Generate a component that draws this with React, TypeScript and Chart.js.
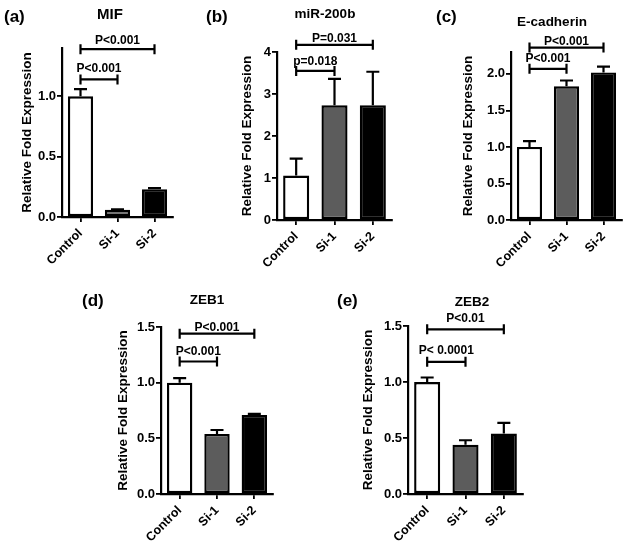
import React, { useEffect, useRef } from 'react';
import { Chart, registerables } from 'chart.js';

Chart.register(...registerables);

// ---------------- DATA ----------------
const categories = ['Control', 'Si-1', 'Si-2'];

const mifMean = [1.0, 0.06, 0.23];
const mifErr = [0.06, 0.004, 0.01];
const mifMax = 1.4;
const mifTicks = [0, 0.5, 1.0];
const mifTickLabels = ['0.0', '0.5', '1.0'];
const mifBrackets = [
  { from: 0, to: 1, y: 1.14, label: 'P<0.001' },
  { from: 0, to: 2, y: 1.39, label: 'P<0.001' },
];

const mirMean = [1.06, 2.73, 2.73];
const mirErr = [0.4, 0.63, 0.8];
const mirMax = 4;
const mirTicks = [0, 1, 2, 3, 4];
const mirTickLabels = ['0', '1', '2', '3', '4'];
const mirBrackets = [
  { from: 0, to: 1, y: 3.55, label: 'p=0.018' },
  { from: 0, to: 2, y: 4.17, label: 'P=0.031' },
];

const ecadMean = [1.0, 1.83, 2.02];
const ecadErr = [0.08, 0.08, 0.08];
const ecadMax = 2.3;
const ecadTicks = [0, 0.5, 1.0, 1.5, 2.0];
const ecadTickLabels = ['0.0', '0.5', '1.0', '1.5', '2.0'];
const ecadBrackets = [
  { from: 0, to: 1, y: 2.07, label: 'P<0.001' },
  { from: 0, to: 2, y: 2.36, label: 'P<0.001' },
];

const zeb1Mean = [1.0, 0.54, 0.71];
const zeb1Err = [0.04, 0.035, 0.01];
const zeb1Max = 1.5;
const zeb1Ticks = [0, 0.5, 1.0, 1.5];
const zeb1TickLabels = ['0.0', '0.5', '1.0', '1.5'];
const zeb1Brackets = [
  { from: 0, to: 1, y: 1.19, label: 'P<0.001' },
  { from: 0, to: 2, y: 1.44, label: 'P<0.001' },
];

const zeb2Mean = [1.0, 0.44, 0.54];
const zeb2Err = [0.04, 0.04, 0.095];
const zeb2Max = 1.5;
const zeb2Ticks = [0, 0.5, 1.0, 1.5];
const zeb2TickLabels = ['0.0', '0.5', '1.0', '1.5'];
const zeb2Brackets = [
  { from: 0, to: 1, y: 1.18, label: 'P< 0.0001' },
  { from: 0, to: 2, y: 1.47, label: 'P<0.01' },
];

const panelTitles = ['MIF', 'miR-200b', 'E-cadherin', 'ZEB1', 'ZEB2'];
const panelLetters = ['(a)', '(b)', '(c)', '(d)', '(e)'];
const yAxisTitle = 'Relative Fold Expression';

// ---------------- STYLE / LAYOUT ----------------
const FONT = '"Liberation Sans", Arial, Helvetica, sans-serif';
const barColors = ['#ffffff', '#5c5c5c', '#000000'];

// axis geometry in page pixels
const layouts = [
  { L: 62, R: 173, T: 48, B: 217, titleX: 27, rowTop: 0, gaps: [7, 5] },
  { L: 277, R: 392, T: 52, B: 220, titleX: 247, rowTop: 0, gaps: [6, 3] },
  { L: 511, R: 622, T: 52, B: 220, titleX: 468, rowTop: 0, gaps: [7, 3] },
  { L: 161, R: 273, T: 327, B: 494, titleX: 123, rowTop: 270, gaps: [7, 3] },
  { L: 408, R: 523, T: 326, B: 494, titleX: 368, rowTop: 270, gaps: [8, 7] },
];
const titlePos = [
  { cx: 110, top: 7, size: 15 },
  { cx: 325, top: 7, size: 13.5 },
  { cx: 552, top: 15, size: 13.5 },
  { cx: 207, top: 293, size: 13.5 },
  { cx: 472, top: 295, size: 13.5 },
];
const letterPos = [
  { left: 4, top: 8 },
  { left: 206, top: 8 },
  { left: 436, top: 8 },
  { left: 82, top: 292 },
  { left: 337, top: 292 },
];

const panels = [
  { mean: mifMean, err: mifErr, max: mifMax, ticks: mifTicks, tickLabels: mifTickLabels, brackets: mifBrackets },
  { mean: mirMean, err: mirErr, max: mirMax, ticks: mirTicks, tickLabels: mirTickLabels, brackets: mirBrackets },
  { mean: ecadMean, err: ecadErr, max: ecadMax, ticks: ecadTicks, tickLabels: ecadTickLabels, brackets: ecadBrackets },
  { mean: zeb1Mean, err: zeb1Err, max: zeb1Max, ticks: zeb1Ticks, tickLabels: zeb1TickLabels, brackets: zeb1Brackets },
  { mean: zeb2Mean, err: zeb2Err, max: zeb2Max, ticks: zeb2Ticks, tickLabels: zeb2TickLabels, brackets: zeb2Brackets },
];

const X_AXIS_H = 58;
const PAD_RIGHT = 6;

function canvasBox(l: any) {
  const left = Math.round(l.titleX - 8);
  const top = l.rowTop;
  const width = l.R + PAD_RIGHT - left;
  const height = l.B - top + X_AXIS_H;
  return { left, top, width, height, padTop: l.T - top, yW: l.L - left };
}

function Panel({ idx }: { idx: number }) {
  const ref = useRef<HTMLCanvasElement | null>(null);
  const p = panels[idx];
  const l = layouts[idx];
  const box = canvasBox(l);

  useEffect(() => {
    if (!ref.current) return;
    const overlay = {
      id: 'overlay' + idx,
      afterDatasetsDraw(chart: any) {
        const { ctx } = chart;
        const xs = chart.scales.x;
        const ys = chart.scales.y;
        const meta = chart.getDatasetMeta(0);
        ctx.save();
        ctx.strokeStyle = '#000';
        ctx.fillStyle = '#000';
        ctx.lineWidth = 2.2;
        ctx.lineCap = 'butt';
        p.mean.forEach((m: number, i: number) => {
          const cx = meta.data[i].x;
          const yTop = ys.getPixelForValue(m);
          const yErr = ys.getPixelForValue(m + p.err[i]);
          ctx.beginPath();
          ctx.moveTo(cx, yTop);
          ctx.lineTo(cx, yErr);
          ctx.moveTo(cx - 6.5, yErr);
          ctx.lineTo(cx + 6.5, yErr);
          ctx.stroke();
        });
        ctx.font = 'bold 12px ' + FONT;
        ctx.textAlign = 'center';
        ctx.textBaseline = 'alphabetic';
        p.brackets.forEach((b: any, k: number) => {
          const x1 = xs.getPixelForValue(b.from);
          const x2 = xs.getPixelForValue(b.to);
          const yy = ys.getPixelForValue(b.y);
          ctx.beginPath();
          ctx.moveTo(x1, yy);
          ctx.lineTo(x2, yy);
          ctx.moveTo(x1, yy - 5);
          ctx.lineTo(x1, yy + 5);
          ctx.moveTo(x2, yy - 5);
          ctx.lineTo(x2, yy + 5);
          ctx.stroke();
          ctx.fillText(b.label, (x1 + x2) / 2, yy - l.gaps[k]);
        });
        ctx.restore();
      },
    };

    const axisGrid = {
      display: true,
      drawOnChartArea: false,
      drawTicks: true,
      tickLength: 5,
      color: '#000',
      lineWidth: 1.8,
    };
    const axisBorder = { display: true, color: '#000', width: 2.2 };

    const chart = new Chart(ref.current, {
      type: 'bar',
      data: {
        labels: categories,
        datasets: [
          {
            data: p.mean,
            backgroundColor: barColors,
            borderColor: '#000',
            borderWidth: 2.4,
            borderSkipped: false,
            barPercentage: 0.68,
            categoryPercentage: 1,
          },
        ],
      },
      options: {
        animation: false,
        responsive: false,
        maintainAspectRatio: false,
        devicePixelRatio: 1,
        layout: { padding: { top: box.padTop, right: PAD_RIGHT, left: 0, bottom: 0 } },
        plugins: {
          legend: { display: false },
          tooltip: { enabled: false },
          title: { display: false },
        },
        scales: {
          x: {
            type: 'category',
            offset: true,
            grid: { ...axisGrid, offset: false },
            border: axisBorder,
            ticks: {
              color: '#000',
              font: { family: FONT, size: 12.5, weight: 'bold' },
              minRotation: 45,
              maxRotation: 45,
              autoSkip: false,
              padding: 4,
            },
            afterFit: (s: any) => {
              s.height = X_AXIS_H;
              s.paddingLeft = 0;
              s.paddingRight = 0;
            },
          },
          y: {
            type: 'linear',
            min: 0,
            max: p.max,
            grid: axisGrid,
            border: axisBorder,
            ticks: {
              color: '#000',
              font: { family: FONT, size: 13, weight: 'bold' },
              padding: 1,
              callback: (v: any) => {
                const i = p.ticks.indexOf(Number(v));
                return i >= 0 ? p.tickLabels[i] : '';
              },
            },
            afterBuildTicks: (s: any) => {
              s.ticks = p.ticks.map((v: number) => ({ value: v }));
            },
            title: {
              display: true,
              text: yAxisTitle,
              color: '#000',
              font: { family: FONT, size: 13.5, weight: 'bold' },
              padding: { top: 0, bottom: 0 },
            },
            afterFit: (s: any) => {
              s.width = box.yW;
              s.paddingTop = 0;
              s.paddingBottom = 0;
            },
          },
        },
      } as any,
      plugins: [overlay],
    });
    return () => chart.destroy();
  }, [idx]);

  return (
    <canvas
      ref={ref}
      width={box.width}
      height={box.height}
      style={{
        position: 'absolute',
        left: box.left,
        top: box.top,
        width: box.width,
        height: box.height,
      }}
    />
  );
}

export default function App() {
  return (
    <div
      style={{
        position: 'absolute',
        left: 0,
        top: 0,
        width: 629,
        height: 548,
        background: '#fff',
        overflow: 'hidden',
        fontFamily: FONT,
      }}
    >
      {panels.map((_, i) => (
        <Panel key={i} idx={i} />
      ))}
      {panelTitles.map((t, i) => (
        <div
          key={'t' + i}
          style={{
            position: 'absolute',
            left: titlePos[i].cx,
            top: titlePos[i].top,
            transform: 'translateX(-50%)',
            fontSize: titlePos[i].size,
            lineHeight: '14px',
            fontWeight: 'bold',
            whiteSpace: 'nowrap',
            color: '#000',
          }}
        >
          {t}
        </div>
      ))}
      {panelLetters.map((t, i) => (
        <div
          key={'l' + i}
          style={{
            position: 'absolute',
            left: letterPos[i].left,
            top: letterPos[i].top,
            fontSize: 17,
            lineHeight: '17px',
            fontWeight: 'bold',
            whiteSpace: 'nowrap',
            color: '#000',
          }}
        >
          {t}
        </div>
      ))}
    </div>
  );
}
